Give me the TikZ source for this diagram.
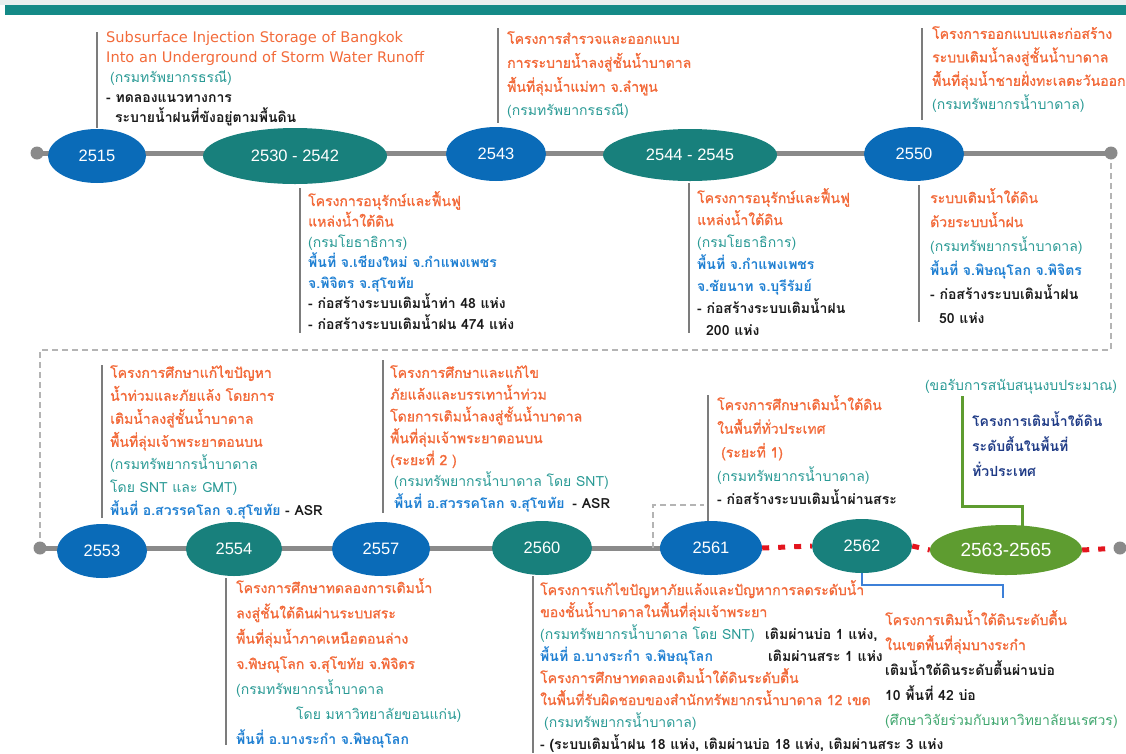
\documentclass[tikz,border=0pt]{standalone}
\usepackage{fontspec}
\setmainfont[Script=Thai]{Loma}
\newfontfamily\orfont[Script=Thai, FakeBold=1.2]{Loma}
\newfontfamily\yearfont{Liberation Sans}
\newfontfamily\engfont{DejaVu Sans}
\usetikzlibrary{shapes.geometric,backgrounds}

\definecolor{corange}{HTML}{F26A3A}
\definecolor{cteal}{HTML}{2A9A95}
\definecolor{cblue}{HTML}{1E7FD2}
\definecolor{cblack}{HTML}{1A1A1A}
\definecolor{cnavy}{HTML}{1F3B86}
\definecolor{cgreen}{HTML}{3FA66E}
\definecolor{eblue}{HTML}{0A6BB8}
\definecolor{eteal}{HTML}{18807C}
\definecolor{egreen}{HTML}{5E9C30}
\definecolor{tlgrey}{HTML}{8A8A8A}
\definecolor{leadgrey}{HTML}{7C7C7C}
\definecolor{dashgrey}{HTML}{B4B4B4}
\definecolor{topbar}{HTML}{148A87}
\definecolor{topstrip}{HTML}{E9EFEF}
\definecolor{cred}{HTML}{E3151E}
\definecolor{linkblue}{HTML}{3D80D8}

\newcommand{\tOr}[1]{{\orfont\color{corange}#1}}
\newcommand{\tTl}[1]{\textcolor{cteal}{#1}}
\newcommand{\tBl}[1]{\textcolor{cblue}{\bfseries #1}}
\newcommand{\tBk}[1]{\textcolor{cblack}{\bfseries #1}}
\newcommand{\tNv}[1]{\textcolor{cnavy}{\bfseries #1}}
\newcommand{\tGr}[1]{\textcolor{cgreen}{#1}}
\newcommand{\topfix}{\rule{0pt}{12pt}}
\newcommand{\engline}[1]{{\engfont\fontsize{14.6}{20}\selectfont\color{corange}#1}}

\tikzset{
  txt/.style={anchor=north west, inner sep=0pt, align=left,
              font=\fontsize{14}{#1}\selectfont},
  txt/.default=22,
  yr/.style={ellipse, inner sep=0pt, text=white,
             font=\yearfont\fontsize{16.5}{16.5}\selectfont},
  yblue/.style={yr, fill=eblue},
  yteal/.style={yr, fill=eteal},
  ygreen/.style={yr, fill=egreen, font=\yearfont\fontsize{19}{19}\selectfont},
  enddot/.style={circle, fill=tlgrey, inner sep=0pt, minimum size=13pt},
  timeline/.style={draw=tlgrey, line width=5pt},
  future/.style={draw=cred, line width=5pt, dash pattern=on 7pt off 9pt},
  leader/.style={draw=leadgrey, line width=2.6pt},
  dashlink/.style={draw=dashgrey, line width=2pt, dash pattern=on 6pt off 4pt},
  greenlink/.style={draw=egreen, line width=3pt},
  bluelink/.style={draw=linkblue, line width=2pt},
}

\begin{document}
\begin{tikzpicture}[x=1pt, y=-1pt]
\useasboundingbox (0,0) rectangle (1126,753);

% header band
\fill[topstrip] (0,0) rectangle (1126,5);
\fill[topbar] (5,5) rectangle (1126,15);

% ---------- upper timeline ----------
\coordinate (ta) at (37,153);
\coordinate (tb) at (1111,153);
\node[enddot] (tadot) at (ta) {};
\node[enddot] (tbdot) at (tb) {};

\node[yblue, minimum width=98pt, minimum height=54pt] (y2515) at (97,156) {2515};
\node[yteal, minimum width=184pt, minimum height=56pt] (y2530) at (295,156) {2530 - 2542};
\node[yblue, minimum width=100pt, minimum height=54pt] (y2543) at (496,154) {2543};
\node[yteal, minimum width=174pt, minimum height=52pt] (y2544) at (690,155) {2544 - 2545};
\node[yblue, minimum width=100pt, minimum height=54pt] (y2550) at (914,154) {2550};

% ---------- lower timeline ----------
\coordinate (ba) at (40,548);
\coordinate (bb) at (1120,548);
\node[enddot] (badot) at (ba) {};
\node[enddot] (bbdot) at (bb) {};

\node[yblue, minimum width=90pt, minimum height=54pt] (y2553) at (102,551) {2553};
\node[yteal, minimum width=96pt, minimum height=54pt] (y2554) at (234,549) {2554};
\node[yblue, minimum width=98pt, minimum height=54pt] (y2557) at (381,549) {2557};
\node[yteal, minimum width=100pt, minimum height=54pt] (y2560) at (542,548) {2560};
\node[yblue, minimum width=102pt, minimum height=54pt] (y2561) at (711,548) {2561};
\node[yteal, minimum width=100pt, minimum height=54pt] (y2562) at (862,546) {2562};
\node[ygreen, minimum width=152pt, minimum height=50pt] (y2563) at (1006,550) {2563-2565};

% ---------- text blocks, upper row ----------
\node[txt=20] (t2515) at (106,30) {\topfix\engline{Subsurface Injection Storage of Bangkok}\\
  \engline{Into an Underground of Storm Water Runoff}\\
  \hspace*{4pt}\tTl{(กรมทรัพยากรธรณี)}\\
  \tBk{- ทดลองแนวทางการ}\\
  \hspace*{9pt}\tBk{ระบายน้ำฝนที่ขังอยู่ตามพื้นดิน}};

\node[txt=24] (t2543) at (507,31) {\topfix\tOr{โครงการสำรวจและออกแบบ}\\
  \tOr{การระบายน้ำลงสู่ชั้นน้ำบาดาล}\\
  \tOr{พื้นที่ลุ่มน้ำแม่ทา จ.ลำพูน}\\
  \tTl{(กรมทรัพยากรธรณี)}};

\node[txt=23.5] (t2550a) at (932,26) {\topfix\tOr{โครงการออกแบบและก่อสร้าง}\\
  \tOr{ระบบเติมน้ำลงสู่ชั้นน้ำบาดาล}\\
  \tOr{พื้นที่ลุ่มน้ำชายฝั่งทะเลตะวันออก}\\
  \tTl{(กรมทรัพยากรน้ำบาดาล)}};

\node[txt=20.5] (t2530) at (308,191) {\topfix\tOr{โครงการอนุรักษ์และฟื้นฟู}\\
  \tOr{แหล่งน้ำใต้ดิน}\\
  \tTl{(กรมโยธาธิการ)}\\
  \tBl{พื้นที่ จ.เชียงใหม่ จ.กำแพงเพชร}\\
  \tBl{จ.พิจิตร จ.สุโขทัย}\\
  \tBk{- ก่อสร้างระบบเติมน้ำท่า 48 แห่ง}\\
  \tBk{- ก่อสร้างระบบเติมน้ำฝน 474 แห่ง}};

\node[txt=22] (t2544) at (697,188) {\topfix\tOr{โครงการอนุรักษ์และฟื้นฟู}\\
  \tOr{แหล่งน้ำใต้ดิน}\\
  \tTl{(กรมโยธาธิการ)}\\
  \tBl{พื้นที่ จ.กำแพงเพชร}\\
  \tBl{จ.ชัยนาท จ.บุรีรัมย์}\\
  \tBk{- ก่อสร้างระบบเติมน้ำฝน}\\
  \hspace*{9pt}\tBk{200 แห่ง}};

\node[txt=24] (t2550b) at (930,188) {\topfix\tOr{ระบบเติมน้ำใต้ดิน}\\
  \tOr{ด้วยระบบน้ำฝน}\\
  \tTl{(กรมทรัพยากรน้ำบาดาล)}\\
  \tBl{พื้นที่ จ.พิษณุโลก จ.พิจิตร}\\
  \tBk{- ก่อสร้างระบบเติมน้ำฝน}\\
  \hspace*{9pt}\tBk{50 แห่ง}};

% ---------- text blocks, lower row ----------
\node[txt=23] (t2553) at (110,365) {\topfix\tOr{โครงการศึกษาแก้ไขปัญหา}\\
  \tOr{น้ำท่วมและภัยแล้ง โดยการ}\\
  \tOr{เติมน้ำลงสู่ชั้นน้ำบาดาล}\\
  \tOr{พื้นที่ลุ่มเจ้าพระยาตอนบน}\\
  \tTl{(กรมทรัพยากรน้ำบาดาล}\\
  \tTl{โดย SNT และ GMT)}\\
  \tBl{พื้นที่ อ.สวรรคโลก จ.สุโขทัย} \tBk{- ASR}};

\node[txt=21.8] (t2557) at (390,365) {\topfix\tOr{โครงการศึกษาและแก้ไข}\\
  \tOr{ภัยแล้งและบรรเทาน้ำท่วม}\\
  \tOr{โดยการเติมน้ำลงสู่ชั้นน้ำบาดาล}\\
  \tOr{พื้นที่ลุ่มเจ้าพระยาตอนบน}\\
  \tOr{(ระยะที่ 2 )}\\
  \hspace*{4pt}\tTl{(กรมทรัพยากรน้ำบาดาล โดย SNT)}\\
  \hspace*{4pt}\tBl{พื้นที่ อ.สวรรคโลก จ.สุโขทัย}\hspace*{8pt}\tBk{- ASR}};

\node[txt=23.7] (t2561) at (717,395) {\topfix\tOr{โครงการศึกษาเติมน้ำใต้ดิน}\\
  \tOr{ในพื้นที่ทั่วประเทศ}\\
  \hspace*{4pt}\tOr{(ระยะที่ 1)}\\
  \tTl{(กรมทรัพยากรน้ำบาดาล)}\\
  \tBk{- ก่อสร้างระบบเติมน้ำผ่านสระ}};

\node[inner sep=0pt, font=\fontsize{14}{16}\selectfont] (ask) at (1021,387) {\tTl{(ขอรับการสนับสนุนงบประมาณ)}};

\node[txt=25] (t2563) at (972,411) {\topfix\tNv{โครงการเติมน้ำใต้ดิน}\\
  \tNv{ระดับตื้นในพื้นที่}\\
  \tNv{ทั่วประเทศ}};

\node[txt=25.3] (t2554) at (236,578) {\topfix\tOr{โครงการศึกษาทดลองการเติมน้ำ}\\
  \tOr{ลงสู่ชั้นใต้ดินผ่านระบบสระ}\\
  \tOr{พื้นที่ลุ่มน้ำภาคเหนือตอนล่าง}\\
  \tOr{จ.พิษณุโลก จ.สุโขทัย จ.พิจิตร}\\
  \tTl{(กรมทรัพยากรน้ำบาดาล}\\
  \hspace*{60pt}\tTl{โดย มหาวิทยาลัยขอนแก่น)}\\
  \tBl{พื้นที่ อ.บางระกำ จ.พิษณุโลก}};

\node[txt=22] (t2560) at (540,580) {\topfix\tOr{โครงการแก้ไขปัญหาภัยแล้งและปัญหาการลดระดับน้ำ}\\
  \tOr{ของชั้นน้ำบาดาลในพื้นที่ลุ่มเจ้าพระยา}\\
  \makebox[225pt][l]{\tTl{(กรมทรัพยากรน้ำบาดาล โดย SNT)}}\tBk{เติมผ่านบ่อ 1 แห่ง,}\\
  \makebox[228pt][l]{\tBl{พื้นที่ อ.บางระกำ จ.พิษณุโลก}}\tBk{เติมผ่านสระ 1 แห่ง}\\
  \tOr{โครงการศึกษาทดลองเติมน้ำใต้ดินระดับตื้น}\\
  \tOr{ในพื้นที่รับผิดชอบของสำนักทรัพยากรน้ำบาดาล 12 เขต}\\
  \hspace*{4pt}\tTl{(กรมทรัพยากรน้ำบาดาล)}\\
  \tBk{- (ระบบเติมน้ำฝน 18 แห่ง, เติมผ่านบ่อ 18 แห่ง, เติมผ่านสระ 3 แห่ง}};

\node[txt=25] (t2562) at (885,610) {\topfix\tOr{โครงการเติมน้ำใต้ดินระดับตื้น}\\
  \tOr{ในเขตพื้นที่ลุ่มบางระกำ}\\
  \tBk{เติมน้ำใต้ดินระดับตื้นผ่านบ่อ}\\
  \tBk{10 พื้นที่ 42 บ่อ}\\
  \tGr{(ศึกษาวิจัยร่วมกับมหาวิทยาลัยนเรศวร)}};

% ---------- connectors, behind the nodes ----------
\begin{pgfonlayer}{background}
  \draw[timeline] (ta) -- (tb);
  \draw[timeline] (ba) -- (y2561.center);
  \draw[future] (y2561.east) -- (y2562.west);
  \draw[future] (y2562.east) -- (y2563.west);
  \draw[future] (y2563.east) -- (bb);

  % return path from the upper line to the lower line
  \coordinate (rtR) at (1111,350);
  \coordinate (rtL) at (40,350);
  \draw[dashlink] (tb) -- (rtR) -- (rtL) -- (ba);

  % branch towards the 2561 project text
  \coordinate (br1) at (653,548);
  \coordinate (br2) at (704,505);
  \draw[dashlink] (br1) |- (br2);

  % funding request link
  \coordinate (g1) at (962,396);
  \coordinate (g2) at (1022,506);
  \draw[greenlink] (g1) |- (g2) -- (g2 |- y2563.center);

  % 2562 project link
  \coordinate (bl1) at (862,585);
  \coordinate (bl2) at (1003,598);
  \draw[bluelink] (y2562.center) -- (bl1) -| (bl2);

  % leader bars beside the text blocks
  \coordinate (l1a) at (97,32);   \coordinate (l1b) at (97,128);
  \coordinate (l2a) at (498,28);  \coordinate (l2b) at (498,123);
  \coordinate (l3a) at (922,28);  \coordinate (l3b) at (922,120);
  \coordinate (l4a) at (300,188); \coordinate (l4b) at (300,333);
  \coordinate (l5a) at (689,183); \coordinate (l5b) at (689,333);
  \coordinate (l6a) at (919,185); \coordinate (l6b) at (919,322);
  \coordinate (l7a) at (102,365); \coordinate (l7b) at (102,518);
  \coordinate (l8a) at (383,360); \coordinate (l8b) at (383,513);
  \coordinate (l9a) at (708,395); \coordinate (l9b) at (708,525);
  \coordinate (l11a) at (226,578); \coordinate (l11b) at (226,745);
  \coordinate (l12a) at (533,576); \coordinate (l12b) at (533,753);
  \foreach \s in {1,2,3,4,5,6,7,8,9,11,12}
    \draw[leader] (l\s a) -- (l\s b);
\end{pgfonlayer}
\end{tikzpicture}
\end{document}
